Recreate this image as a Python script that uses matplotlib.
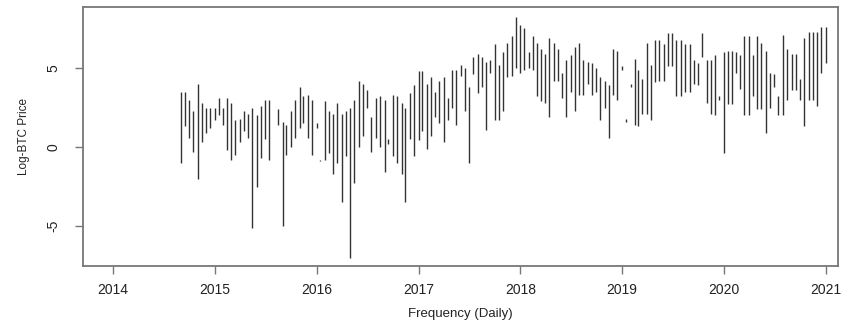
import matplotlib
matplotlib.use("Agg")
import matplotlib.pyplot as plt
import numpy as np
import pandas as pd

# Half-monthly ranges (high / low) of the daily Log-BTC series
start_date = "2014-09-01"
high = [3.5, 3.5, 3.0, 2.3, 4.0, 2.8, 2.5, 2.5, 2.5, 3.1,
        2.5, 3.1, 2.8, 1.7, 1.8, 2.3, 2.1, 2.5, 2.0, 2.6,
        3.0, 3.0, np.nan, 2.4, 1.6, 1.4, 2.3, 3.0, 3.8, 3.2,
        3.3, 3.0, 1.5, -0.8, 2.9, 2.3, 2.1, 2.8, 2.1, 2.3,
        2.5, 3.0, 4.2, 4.0, 3.6, 1.9, 3.1, 3.2, 3.0, 0.5,
        3.3, 3.2, 2.8, 2.5, 3.4, 3.9, 4.8, 4.8, 4.0, 4.4,
        3.5, 4.2, 4.4, 3.1, 4.9, 4.9, 5.2, 5.0, 3.8, 5.7,
        5.9, 5.7, 5.4, 5.5, 6.5, 5.2, 6.0, 6.6, 7.0, 8.2,
        7.7, 7.5, 6.0, 7.0, 6.6, 6.2, 5.9, 6.9, 6.6, 6.2,
        4.7, 5.5, 5.8, 6.3, 6.6, 5.5, 5.4, 5.3, 5.0, 4.4,
        4.2, 3.9, 6.2, 6.1, 5.1, 1.8, 4.0, 5.6, 4.9, 4.3,
        6.6, 5.2, 6.8, 6.8, 6.5, 7.2, 7.2, 6.8, 6.8, 6.5,
        6.5, 5.5, 5.3, 7.2, 5.5, 5.5, 5.8, 3.2, 6.0, 6.1,
        6.1, 6.0, 5.8, 7.0, 7.0, 5.8, 7.0, 6.6, 6.1, 4.7,
        4.6, 3.2, 7.1, 6.2, 5.9, 5.9, 4.3, 6.9, 7.3, 7.3,
        7.3, 7.6, 7.6]
low = [-1.0, 1.3, 0.6, -0.3, -2.0, 0.3, 0.9, 1.2, 1.7, 2.0,
       1.4, -0.2, -0.8, -0.5, 0.3, 1.0, 0.6, -5.1, -2.5, -0.7,
       0.5, -0.8, np.nan, 1.4, -5.0, -0.5, 0.0, 0.6, 1.2, 1.5,
       0.6, -0.5, 1.2, -0.9, -0.8, -0.4, -1.7, -1.0, -3.5, -0.6,
       -7.0, -2.3, 0.0, 0.7, 2.5, -0.3, 0.6, 0.0, -1.6, 0.2,
       -0.6, -1.0, -1.7, -3.5, 0.5, -0.6, 0.45, 1.0, -0.1, 0.7,
       1.9, 1.5, 0.3, 1.7, 2.5, 1.4, 4.5, 2.3, -1.0, 4.6,
       3.4, 3.8, 1.1, 4.7, 1.7, 1.7, 2.3, 4.4, 4.5, 5.0,
       4.7, 4.9, 5.0, 4.9, 3.2, 2.9, 2.8, 1.9, 4.2, 4.2,
       3.1, 1.9, 3.5, 2.3, 3.3, 3.3, 4.0, 3.3, 3.5, 1.7,
       2.5, 0.6, 3.3, 3.0, 4.9, 1.6, 3.8, 1.4, 1.3, 2.1,
       2.1, 1.7, 4.1, 4.2, 4.2, 5.1, 5.1, 3.2, 3.2, 3.5,
       3.5, 4.0, 3.9, 5.7, 2.8, 2.1, 2.0, 3.0, -0.4, 2.7,
       2.7, 4.7, 3.7, 2.0, 2.0, 3.2, 2.4, 2.4, 0.9, 2.5,
       3.8, 2.0, 2.0, 3.0, 3.6, 3.6, 3.0, 1.3, 3.0, 3.0,
       2.6, 4.7, 5.3]
year_ticks = [2014, 2015, 2016, 2017, 2018, 2019, 2020, 2021]
y_ticks = [-5, 0, 5]

dates = pd.date_range(start_date, periods=len(high), freq="SMS")

plt.rcParams['font.family'] = ['Liberation Sans', 'DejaVu Sans']

fig = plt.figure(figsize=(8.43, 3.23), dpi=100)
ax = fig.add_axes([83 / 843, 1 - 266 / 323, 755 / 843, 259 / 323])

ax.vlines(dates, low, high, colors='#333333', linewidth=1.0)

ax.set_xlim(pd.Timestamp("2013-09-15"), pd.Timestamp("2021-02-14"))
ax.set_ylim(-7.53, 8.86)

ax.set_xticks([pd.Timestamp(f"{y}-01-01") for y in year_ticks])
ax.set_xticklabels([str(y) for y in year_ticks])
ax.set_yticks(y_ticks)
ax.set_yticklabels([str(v) for v in y_ticks], rotation=90, va='center')

for s in ax.spines.values():
    s.set_color('#777777')
    s.set_linewidth(1.3)

ax.tick_params(axis='both', direction='out', length=6, width=1.0, color='#777777',
               labelsize=10, labelcolor='#222222')
ax.tick_params(axis='x', pad=6)
ax.tick_params(axis='y', pad=10)

ax.set_xlabel("Frequency (Daily)", fontsize=9.5, color='#222222', labelpad=8)
ax.set_ylabel("Log-BTC Price", fontsize=8.5, color='#222222', labelpad=12)

fig.savefig("out.png", dpi=100)
